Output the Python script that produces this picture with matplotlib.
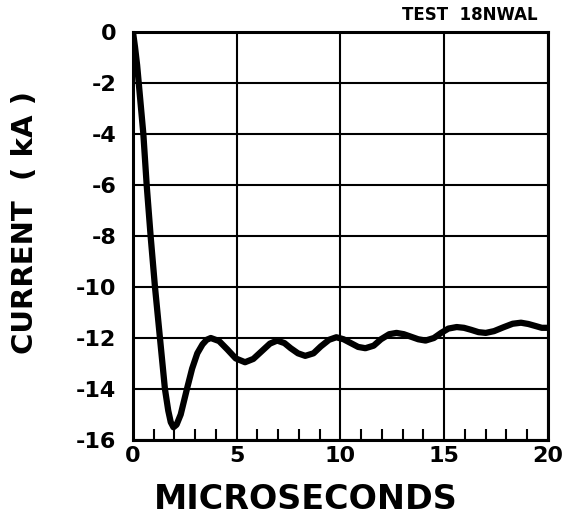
import numpy as np
import matplotlib
matplotlib.use("Agg")
import matplotlib.pyplot as plt
from matplotlib.ticker import MultipleLocator

time_us = [0.0, 0.1, 0.2, 0.3, 0.4, 0.5, 0.66, 0.85, 1.06, 1.3, 1.54, 1.7, 1.82, 1.95,
           2.1, 2.3, 2.6, 2.85, 3.1, 3.35, 3.55, 3.75,
           4.15, 4.55, 4.95, 5.4, 5.8, 6.2, 6.6, 6.95, 7.3, 7.6, 7.95, 8.3,
           8.7, 9.05, 9.45, 9.8, 10.15, 10.5, 10.85, 11.2, 11.6, 11.95, 12.35, 12.7,
           13.05, 13.4, 13.75, 14.1, 14.5, 14.85, 15.2, 15.6, 15.95, 16.3, 16.65, 17.0,
           17.4, 17.85, 18.3, 18.7, 19.05, 19.4, 19.7, 20.0]
current_ka = [0.0, -0.6, -1.3, -2.2, -3.1, -4.0, -6.0, -8.0, -10.0, -12.0, -14.0, -14.85, -15.3, -15.5,
              -15.4, -15.0, -14.0, -13.2, -12.6, -12.25, -12.07, -12.0,
              -12.12, -12.45, -12.8, -12.95, -12.82, -12.52, -12.22, -12.1, -12.2, -12.4, -12.6, -12.7,
              -12.6, -12.33, -12.07, -11.97, -12.05, -12.2, -12.35, -12.4, -12.3, -12.05, -11.85, -11.8,
              -11.85, -11.95, -12.05, -12.1, -12.0, -11.8, -11.63, -11.57, -11.6, -11.68, -11.77, -11.8,
              -11.73, -11.58, -11.44, -11.4, -11.45, -11.53, -11.6, -11.6]

y_ticks = [0, -2, -4, -6, -8, -10, -12, -14, -16]
x_ticks = [0, 5, 10, 15, 20]

plt.rcParams['font.family'] = ['DejaVu Sans']
plt.rcParams['font.weight'] = 'bold'

fig = plt.figure(figsize=(5.7, 5.25), dpi=100)
ax = fig.add_axes([0.2333, 0.1619, 0.7281, 0.7771])

ax.plot(time_us, current_ka, color='black', lw=4.5, solid_joinstyle='round',
        solid_capstyle='round', zorder=3)

ax.set_xlim(0, 20)
ax.set_ylim(-16, 0)
ax.set_xticks(x_ticks)
ax.set_yticks(y_ticks)
ax.set_xticklabels([str(v) for v in x_ticks], fontsize=16, fontweight='bold')
ax.set_yticklabels([str(v) for v in y_ticks], fontsize=16, fontweight='bold')
ax.xaxis.set_minor_locator(MultipleLocator(1))
ax.tick_params(axis='x', which='minor', direction='in', length=8, width=1.5, color='black')
ax.tick_params(axis='x', which='major', direction='in', length=0, pad=4)
ax.tick_params(axis='y', which='major', length=0, pad=12)

ax.grid(True, which='major', color='black', lw=1.5)
for s in ax.spines.values():
    s.set_linewidth(2.2)

fig.text(0.537, 0.048, 'MICROSECONDS', ha='center', va='center', fontsize=24, fontweight='bold')
fig.text(0.044, 0.577, 'CURRENT  ( kA )', ha='center', va='center', rotation=90,
         fontsize=21, fontweight='bold')

fig.text(0.943, 0.955, 'TEST  18NWAL', ha='right', va='bottom', fontsize=12, fontweight='bold')

fig.savefig('out.png', dpi=100)
